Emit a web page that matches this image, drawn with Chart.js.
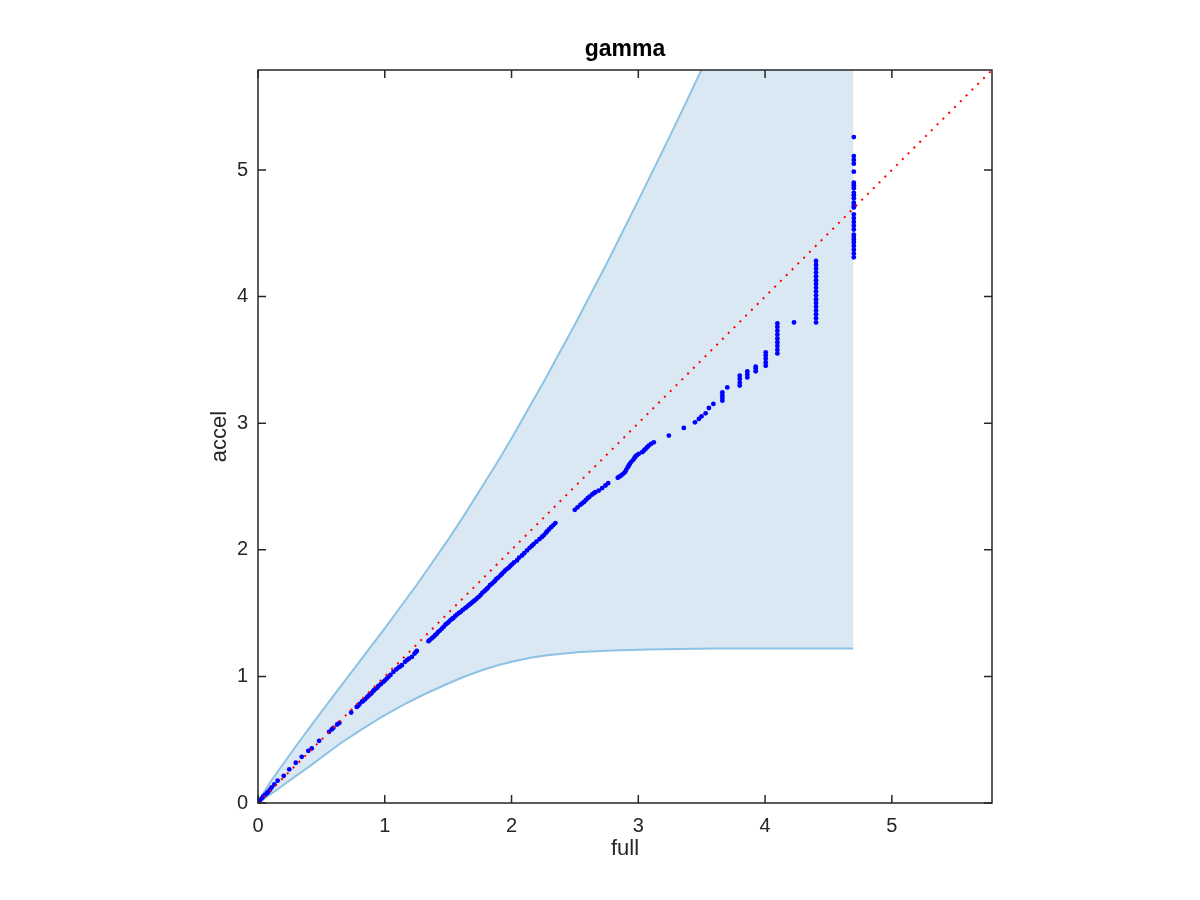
<!DOCTYPE html>
<html>
<head>
<meta charset="utf-8">
<script src="https://cdn.jsdelivr.net/npm/chart.js@4"></script>
<style>
  body { margin: 0; background: #fff; }
  canvas { display: block; }
</style>
</head>
<body>
<canvas id="gamma-chart" width="1200" height="900"></canvas>
<script>
// axis settings
const axisMax = 5.79;
const tickValues = [0, 1, 2, 3, 4, 5];

// scatter: full vs accel
const full = [
  0.003, 0.015, 0.029, 0.04, 0.055, 0.07, 0.082, 0.095, 0.108, 0.129, 0.155, 0.203, 0.247, 0.298,
  0.345, 0.397, 0.424, 0.482, 0.561, 0.582, 0.595, 0.625, 0.642, 0.735, 0.779, 0.79, 0.80, 0.82,
  0.83, 0.845, 0.86, 0.87, 0.88, 0.89, 0.898, 0.91, 0.915, 0.924, 0.94, 0.95, 0.97,
  0.990, 1.00, 1.015, 1.029, 1.045, 1.069, 1.09, 1.108, 1.12, 1.135, 1.16, 1.174, 1.19, 1.214,
  1.235, 1.245, 1.253,
  1.345, 1.355, 1.37, 1.385, 1.398, 1.41, 1.42, 1.435, 1.451, 1.465, 1.48, 1.495, 1.505, 1.517,
  1.53, 1.54, 1.555, 1.569, 1.585, 1.60, 1.615, 1.635, 1.645, 1.66, 1.675, 1.688, 1.70, 1.71,
  1.725, 1.740, 1.755, 1.77, 1.785, 1.795, 1.806, 1.815, 1.83, 1.845, 1.859, 1.87, 1.88, 1.895,
  1.912, 1.925, 1.94, 1.951, 1.965, 1.98, 1.99, 2.004, 2.02, 2.043, 2.06, 2.083, 2.10, 2.122,
  2.143, 2.16, 2.175, 2.196, 2.22, 2.24, 2.254, 2.27, 2.28, 2.295, 2.312, 2.33, 2.346,
  2.499, 2.52, 2.543, 2.555, 2.570, 2.585, 2.601, 2.615, 2.636, 2.65, 2.662, 2.688, 2.715, 2.741,
  2.762, 2.838, 2.85, 2.865, 2.88, 2.894, 2.905, 2.917, 2.925, 2.933, 2.945, 2.960, 2.97, 2.978,
  2.99, 3.004, 3.031, 3.045, 3.057, 3.07, 3.083, 3.10, 3.122, 3.241,
  3.359, 3.447, 3.478, 3.499, 3.531, 3.557, 3.592, 3.663, 3.663, 3.663, 3.663, 3.702,
  3.80, 3.80, 3.80, 3.80, 3.86, 3.86, 3.86, 3.926, 3.926, 3.926,
  4.005, 4.005, 4.005, 4.005, 4.005,
  4.097, 4.097, 4.097, 4.097, 4.097, 4.097, 4.097, 4.097, 4.097, 4.228,
  4.402, 4.402, 4.402, 4.402, 4.402, 4.402, 4.402, 4.402, 4.402, 4.402, 4.402, 4.402, 4.402, 4.402,
  4.402, 4.402, 4.402,
  4.70, 4.70, 4.70, 4.70, 4.70, 4.70, 4.70, 4.70, 4.70, 4.70, 4.70, 4.70, 4.70, 4.70, 4.70, 4.70,
  4.70, 4.70, 4.70, 4.70, 4.70, 4.70, 4.70, 4.70, 4.70, 4.70, 4.70
];
const accel = [
  0.01, 0.022, 0.037, 0.05, 0.063, 0.077, 0.089, 0.105, 0.124, 0.147, 0.176, 0.215, 0.266, 0.318,
  0.365, 0.412, 0.431, 0.491, 0.562, 0.581, 0.594, 0.62, 0.633, 0.715, 0.759, 0.768, 0.78, 0.80,
  0.806, 0.820, 0.835, 0.845, 0.855, 0.862, 0.870, 0.885, 0.89, 0.899, 0.91, 0.925, 0.94,
  0.957, 0.967, 0.982, 0.996, 1.012, 1.036, 1.055, 1.070, 1.078, 1.088, 1.115, 1.128, 1.140, 1.154,
  1.180, 1.192, 1.201,
  1.278, 1.287, 1.30, 1.313, 1.325, 1.336, 1.35, 1.362, 1.378, 1.392, 1.41, 1.421, 1.431, 1.443,
  1.454, 1.46, 1.476, 1.488, 1.501, 1.51, 1.525, 1.540, 1.548, 1.56, 1.572, 1.583, 1.593, 1.60,
  1.614, 1.627, 1.642, 1.66, 1.672, 1.682, 1.693, 1.702, 1.72, 1.731, 1.745, 1.756, 1.77, 1.781,
  1.798, 1.811, 1.826, 1.838, 1.850, 1.86, 1.872, 1.885, 1.900, 1.916, 1.939, 1.956, 1.973, 1.995,
  2.016, 2.031, 2.045, 2.064, 2.084, 2.102, 2.114, 2.133, 2.145, 2.161, 2.179, 2.195, 2.211,
  2.316, 2.335, 2.355, 2.365, 2.376, 2.392, 2.408, 2.42, 2.437, 2.447, 2.455, 2.468, 2.488, 2.508,
  2.526, 2.569, 2.578, 2.587, 2.60, 2.613, 2.632, 2.652, 2.666, 2.679, 2.695, 2.711, 2.725, 2.737,
  2.748, 2.758, 2.771, 2.785, 2.797, 2.81, 2.823, 2.836, 2.849, 2.902,
  2.963, 3.007, 3.034, 3.054, 3.078, 3.120, 3.152, 3.178, 3.20, 3.22, 3.244, 3.283,
  3.297, 3.32, 3.35, 3.375, 3.362, 3.385, 3.409, 3.41, 3.43, 3.446,
  3.454, 3.48, 3.51, 3.535, 3.559,
  3.551, 3.58, 3.61, 3.64, 3.67, 3.70, 3.73, 3.76, 3.788, 3.796,
  3.796, 3.83, 3.86, 3.89, 3.92, 3.95, 3.98, 4.01, 4.04, 4.07, 4.10, 4.13, 4.16, 4.19,
  4.22, 4.25, 4.282,
  5.26, 5.11, 5.08, 5.05, 4.987, 4.90, 4.88, 4.856, 4.82, 4.80, 4.777, 4.742, 4.72, 4.703, 4.65, 4.62,
  4.59, 4.56, 4.53, 4.49, 4.47, 4.45, 4.427, 4.40, 4.37, 4.34, 4.31
];

// band edges
const upperFull = [0, 0.05, 0.1, 0.2, 0.3, 0.4, 0.5, 0.625, 0.75, 0.875, 1.0, 1.125, 1.25, 1.375, 1.5,
  1.625, 1.75, 1.875, 2.0, 2.125, 2.25, 2.375, 2.5, 2.625, 2.75, 2.875, 3.0, 3.125, 3.25, 3.375, 3.497];
const upperAccel = [0, 0.09, 0.17, 0.31, 0.45, 0.585, 0.72, 0.885, 1.05, 1.215, 1.38, 1.55, 1.72, 1.90, 2.08,
  2.27, 2.47, 2.67, 2.88, 3.10, 3.32, 3.55, 3.78, 4.02, 4.26, 4.51, 4.76, 5.015, 5.27, 5.53, 5.79];
const lowerFull = [0, 0.05, 0.121, 0.253, 0.4, 0.648, 0.80, 0.964, 1.06, 1.175, 1.3, 1.49, 1.62, 1.754,
  1.9, 2.017, 2.15, 2.28, 2.54, 2.8, 3.07, 3.59, 4.695];
const lowerAccel = [0, 0.035, 0.085, 0.18, 0.285, 0.47, 0.57, 0.672, 0.728, 0.79, 0.853, 0.94, 0.995, 1.045,
  1.09, 1.12, 1.147, 1.167, 1.193, 1.205, 1.212, 1.22, 1.22];
const bandRight = 4.695;

const fontFamily = "'Liberation Sans', Arial, Helvetica, sans-serif";
const axisColor = '#262626';

const upperPts = upperFull.map((v, i) => ({x: v, y: upperAccel[i]}));
const lowerPts = lowerFull.map((v, i) => ({x: v, y: lowerAccel[i]}));
// closed shape for the shaded band
const bandShape = upperPts.concat([{x: bandRight, y: axisMax}], lowerPts.slice().reverse());

// box + inward ticks on all four sides
const boxTicks = {
  id: 'boxTicks',
  afterDatasetsDraw(chart) {
    const {ctx, chartArea: a, scales: {x, y}} = chart;
    ctx.save();
    ctx.strokeStyle = axisColor;
    ctx.lineWidth = 1.5;
    ctx.strokeRect(a.left, a.top, a.right - a.left, a.bottom - a.top);
    ctx.beginPath();
    tickValues.forEach(function(v) {
      const px = x.getPixelForValue(v);
      ctx.moveTo(px, a.bottom); ctx.lineTo(px, a.bottom - 8);
      ctx.moveTo(px, a.top); ctx.lineTo(px, a.top + 8);
      const py = y.getPixelForValue(v);
      ctx.moveTo(a.left, py); ctx.lineTo(a.left + 8, py);
      ctx.moveTo(a.right, py); ctx.lineTo(a.right - 8, py);
    });
    ctx.stroke();
    ctx.restore();
  }
};

new Chart('gamma-chart', {
  type: 'scatter',
  data: {
    datasets: [{
      // reference line y = x
      data: [{x: 0, y: 0}, {x: axisMax, y: axisMax}],
      showLine: true,
      borderColor: '#ff0000',
      borderWidth: 2,
      borderDash: [2, 6.2],
      pointRadius: 0,
      order: 0
    }, {
      data: full.map((v, i) => ({x: v, y: accel[i]})),
      backgroundColor: '#0000ff',
      borderWidth: 0,
      pointRadius: 2.4,
      order: 1
    }, {
      data: upperPts,
      showLine: true,
      borderColor: '#8dc2e4',
      borderWidth: 2,
      pointRadius: 0,
      order: 2
    }, {
      data: lowerPts,
      showLine: true,
      borderColor: '#8dc2e4',
      borderWidth: 2,
      pointRadius: 0,
      order: 3
    }, {
      data: bandShape,
      showLine: true,
      fill: 'shape',
      backgroundColor: '#d9e8f3',
      borderWidth: 0,
      pointRadius: 0,
      order: 4
    }]
  },
  options: {
    responsive: false,
    animation: false,
    layout: { padding: { left: 195, right: 208, top: 0, bottom: 30 } },
    plugins: {
      legend: { display: false },
      tooltip: { enabled: false }
    },
    scales: {
      // top axis only carries the title so it is centred over the plot box
      top: {
        type: 'linear',
        position: 'top',
        min: 0,
        max: axisMax,
        afterFit: function(s) { s.height = 70; },
        grid: { display: false, drawTicks: false },
        border: { display: false },
        ticks: { display: false },
        title: {
          display: true,
          text: 'gamma',
          color: '#000',
          font: { family: fontFamily, size: 23, weight: 'bold' },
          padding: { top: 36, bottom: 0 }
        }
      },
      x: {
        type: 'linear',
        min: 0,
        max: axisMax,
        afterFit: function(s) { s.height = 67; },
        grid: { display: false, drawTicks: false },
        border: { display: false },
        ticks: {
          stepSize: 1,
          includeBounds: false,
          maxRotation: 0,
          padding: 11,
          color: axisColor,
          font: { family: fontFamily, size: 20 }
        },
        title: {
          display: true,
          text: 'full',
          color: axisColor,
          font: { family: fontFamily, size: 22 },
          padding: { top: 0, bottom: 8 }
        }
      },
      y: {
        type: 'linear',
        min: 0,
        max: axisMax,
        afterFit: function(s) { s.width = 63; },
        grid: { display: false, drawTicks: false },
        border: { display: false },
        ticks: {
          stepSize: 1,
          includeBounds: false,
          padding: 10,
          color: axisColor,
          font: { family: fontFamily, size: 20 }
        },
        title: {
          display: true,
          text: 'accel',
          color: axisColor,
          font: { family: fontFamily, size: 22 },
          padding: { top: 12, bottom: 0 }
        }
      }
    }
  },
  plugins: [boxTicks]
});
</script>
</body>
</html>
